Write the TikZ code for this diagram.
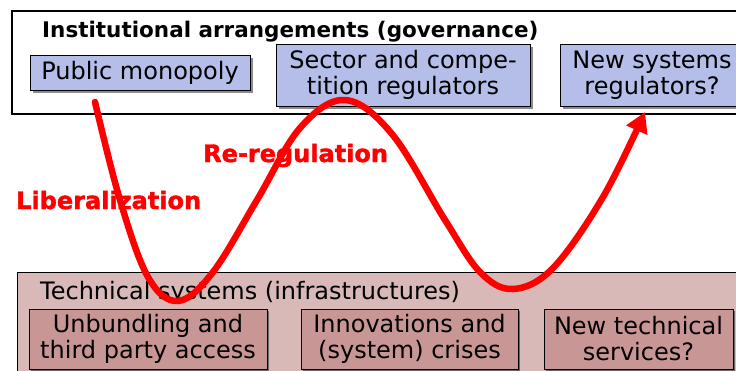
\documentclass[tikz,border=0pt]{standalone}
\usepackage{fontspec}
\setmainfont{DejaVu Sans}
\newfontfamily\heavyfont[FakeBold=1.5]{DejaVu Sans Bold}
\usetikzlibrary{shadows}
\usetikzlibrary{arrows.meta}
\definecolor{govblue}{RGB}{180,190,232}
\definecolor{techpink}{RGB}{217,184,184}
\definecolor{techrose}{RGB}{201,150,150}
\definecolor{wavered}{RGB}{255,0,0}

\begin{document}
\begin{tikzpicture}[x=1pt,y=-1pt,
    gov/.style={draw,fill=govblue,line width=0.8pt,align=center,inner sep=0pt,
      font=\fontsize{24}{26}\selectfont,
      drop shadow={shadow xshift=3pt,shadow yshift=-3pt,fill=black!45,opacity=1}},
    tec/.style={draw,fill=techrose,line width=0.8pt,align=center,inner sep=0pt,
      font=\fontsize{24}{26}\selectfont,
      drop shadow={shadow xshift=1.5pt,shadow yshift=-1.5pt,fill=black!60,opacity=1}},
    lbl/.style={text=wavered,font=\heavyfont\fontsize{24}{26}\selectfont,inner sep=0pt,anchor=base west}]
  \useasboundingbox (0,0) rectangle (736,370);
  \clip (0,0) rectangle (736,370);
  % institutional level
  \node[draw,line width=2pt,fill=white,anchor=north west,minimum width=780pt,minimum height=103pt] (inst) at (11,10) {};
  \node[anchor=base west,inner sep=0pt,font=\bfseries\fontsize{21.5}{24}\selectfont] (insttitle) at (42,37) {Institutional arrangements (governance)};
  \node[gov,minimum width=220pt,minimum height=35pt] (pub) at (140,72.5) {Public monopoly};
  \node[gov,minimum width=254pt,minimum height=62pt] (sect) at (403,75) {Sector and compe-\\tition regulators};
  \node[gov,minimum width=184pt,minimum height=62pt] (nsys) at (652,75) {New systems\\regulators?};
  % technical level
  \node[draw,line width=0.8pt,fill=techpink,anchor=north west,minimum width=780pt,minimum height=120pt] (tech) at (17,272) {};
  \node[anchor=base west,inner sep=0pt,font=\fontsize{24}{26}\selectfont] (techtitle) at (40,299) {Technical systems (infrastructures)};
  \node[tec,minimum width=238pt,minimum height=60pt] (unb) at (148,339) {Unbundling and\\third party access};
  \node[tec,minimum width=217pt,minimum height=60pt] (inno) at (409.5,339) {Innovations and\\(system) crises};
  \node[tec,minimum width=189pt,minimum height=60pt] (ntech) at (638.5,339) {New technical\\services?};
  % the wave
  \draw[wavered,line width=6.5pt,line cap=round,-{Triangle[length=20pt,width=22pt]}]
    plot[smooth,tension=0.6] coordinates {(95,102) (120,200) (148,277) (178,301) (213,272) (257,200)
      (300,128) (345,100) (392,134) (445,220) (480,272) (513,289) (553,268) (603,197) (645,112)};
  \node[lbl] (lib) at (16,209) {Liberalization};
  \node[lbl] (rereg) at (203,162) {Re-regulation};
\end{tikzpicture}
\end{document}
